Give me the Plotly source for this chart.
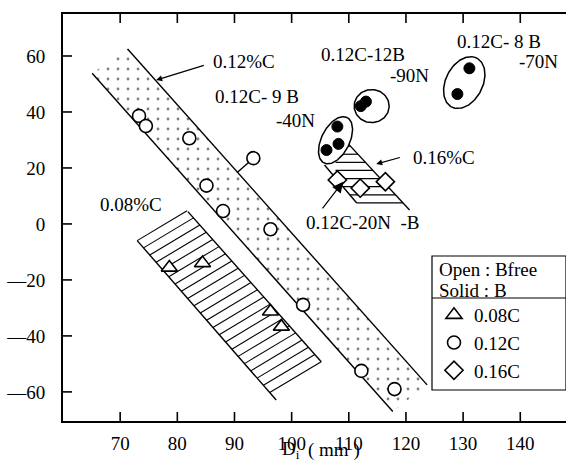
import numpy as np
import plotly.graph_objects as go

# ---------------- data ----------------
tri_x = [78.6, 84.4, 96.3, 98.2]                 # 0.08C, B free
tri_y = [-15.6, -14.0, -31.3, -36.7]
circ_x = [73.3, 74.5, 82.1, 93.3, 85.1, 88.0, 96.3, 102.0, 112.2, 118.0]   # 0.12C, B free
circ_y = [38.6, 35.0, 30.6, 23.5, 13.7, 4.6, -1.9, -28.9, -52.5, -59.0]
solid_x = [108.0, 108.2, 106.1, 113.0, 112.1, 131.1, 129.0]               # 0.12C, B added
solid_y = [34.8, 28.6, 26.4, 43.7, 42.1, 55.6, 46.4]
dia_x = [108.0, 112.0, 116.4]                     # 0.16C
dia_y = [15.7, 12.8, 15.1]

x_ticks = [70, 80, 90, 100, 110, 120, 130, 140]
y_ticks = [-60, -40, -20, 0, 20, 40, 60]
y_tick_text = ["\u201460", "\u201440", "\u201420", "0", "20", "40", "60"]

# band edges (data coordinates)
b12_low_x, b12_low_y = [65.1, 117.7], [53.8, -67.0]
b12_up_x, b12_up_y = [71.3, 123.7], [62.5, -57.5]
b08_left_x, b08_left_y = [72.98, 97.3], [-5.96, -62.9]
b08_right_x, b08_right_y = [81.85, 105.18], [4.4, -49.2]
b16_left_x, b16_left_y = [105.75, 111.39], [21.07, 7.5]
b16_right_x, b16_right_y = [109.55, 120.63], [29.4, 5.0]

# ellipses grouping boron steels (centre in data units, semi-axes in px, angle deg)
ell_cx = [107.68, 114.0, 130.2]
ell_cy = [29.9, 42.1, 50.5]
ell_a = [25.5, 17.5, 27.5]
ell_b = [14.0, 16.5, 18.5]
ell_ang = [63, 0, 63]

# ---------------- geometry helpers ----------------
W, H = 566, 461
ML, MR, MT, MB = 63, 0, 14, 40
PW, PH = W - ML - MR, H - MT - MB
X_RANGE = [60, 148]
Y_RANGE = [-70.4, 75]
sx = PW / (X_RANGE[1] - X_RANGE[0])
sy = PH / (Y_RANGE[1] - Y_RANGE[0])

def px2paper(px, py):
    return (px - ML) / PW, 1 - (py - MT) / PH

FONT = "Liberation Serif"
FS = 19

def line_through(xs, ys):
    m = (ys[1] - ys[0]) / (xs[1] - xs[0])
    return m, ys[0] - m * xs[0]

def seg_trace(xs, ys, width):
    return go.Scatter(x=xs, y=ys, mode="lines", line=dict(color="black", width=width),
                      hoverinfo="skip", showlegend=False)

fig = go.Figure()

# 0.12%C stippled band
fig.add_trace(go.Scatter(
    x=[b12_low_x[0], b12_low_x[1], b12_up_x[1], b12_up_x[0], b12_low_x[0]],
    y=[b12_low_y[0], b12_low_y[1], b12_up_y[1], b12_up_y[0], b12_low_y[0]],
    mode="lines", line=dict(width=0), fill="toself", fillcolor="white",
    fillpattern=dict(shape=".", size=10, solidity=0.06, fgcolor="black", bgcolor="white"),
    hoverinfo="skip", showlegend=False))
for xs, ys in [(b12_low_x, b12_low_y), (b12_up_x, b12_up_y)]:
    fig.add_trace(seg_trace(xs, ys, 1.4))

# 0.08%C hatched band (slanted hatch)
mL, cL = line_through(b08_left_x, b08_left_y)
mR, cR = line_through(b08_right_x, b08_right_y)
mh = 0.6 * sx / sy
k_top = b08_left_y[0] - mh * b08_left_x[0]
k_bot = b08_right_y[1] - mh * b08_right_x[1]
hx, hy = [], []
for k in np.linspace(k_top, k_bot, 22):
    x1 = (cL - k) / (mh - mL)
    x2 = (cR - k) / (mh - mR)
    hx += [x1, x2, None]
    hy += [mh * x1 + k, mh * x2 + k, None]
fig.add_trace(seg_trace(hx, hy, 1.1))
for xs, ys in [(b08_left_x, b08_left_y), (b08_right_x, b08_right_y)]:
    fig.add_trace(seg_trace(xs, ys, 1.4))

# 0.16%C hatched band (horizontal hatch)
mL2, cL2 = line_through(b16_left_x, b16_left_y)
mR2, cR2 = line_through(b16_right_x, b16_right_y)
hx, hy = [], []
for yv in np.linspace(b16_left_y[1], 27.8, 8):
    xl = max((yv - cL2) / mL2, ell_cx[0])
    xr = (yv - cR2) / mR2
    hx += [xl, xr, None]
    hy += [yv, yv, None]
fig.add_trace(seg_trace(hx, hy, 1.2))
for xs, ys in [(b16_left_x, b16_left_y), (b16_right_x, b16_right_y)]:
    fig.add_trace(seg_trace(xs, ys, 1.4))

# ellipses
t = np.linspace(0, 2 * np.pi, 120)
for cx, cy, a, b, ang in zip(ell_cx, ell_cy, ell_a, ell_b, ell_ang):
    th = np.radians(ang)
    ex = cx + (a * np.cos(th) * np.cos(t) - b * np.sin(th) * np.sin(t)) / sx
    ey = cy + (a * np.sin(th) * np.cos(t) + b * np.cos(th) * np.sin(t)) / sy
    fig.add_trace(go.Scatter(x=ex, y=ey, mode="lines", fill="toself", fillcolor="white",
                             line=dict(color="black", width=1.5), hoverinfo="skip",
                             showlegend=False))

# stem from the outlying open circle to the band edge (perpendicular in screen space)
px, py = circ_x[3] * sx, circ_y[3] * sy
ax0, ay0 = b12_up_x[0] * sx, b12_up_y[0] * sy
dx, dy = (b12_up_x[1] - b12_up_x[0]) * sx, (b12_up_y[1] - b12_up_y[0]) * sy
L = np.hypot(dx, dy)
tt = ((px - ax0) * dx + (py - ay0) * dy) / L**2
fx, fy = (ax0 + tt * dx) / sx, (ay0 + tt * dy) / sy
fig.add_trace(seg_trace([fx, circ_x[3]], [fy, circ_y[3]], 1.4))

# inward tick marks on bottom, top and left edges
TL = 9
X0, X1 = X_RANGE
Y0, Y1 = Y_RANGE
tkx, tky = [], []
for xv in x_ticks:
    tkx += [xv, xv, None, xv, xv, None]
    tky += [Y0, Y0 + TL / sy, None, Y1, Y1 - TL / sy, None]
for yv in y_ticks:
    tkx += [X0, X0 + TL / sx, None]
    tky += [yv, yv, None]
fig.add_trace(seg_trace(tkx, tky, 1.6))

# markers
mk_line = dict(color="black", width=1.6)
fig.add_trace(go.Scatter(x=tri_x, y=tri_y, mode="markers", name="0.08C",
                         marker=dict(symbol="triangle-up", size=14, color="white", line=mk_line)))
fig.add_trace(go.Scatter(x=circ_x, y=circ_y, mode="markers", name="0.12C",
                         marker=dict(symbol="circle", size=13, color="white", line=mk_line)))
fig.add_trace(go.Scatter(x=dia_x, y=dia_y, mode="markers", name="0.16C",
                         marker=dict(symbol="diamond", size=14, color="white", line=mk_line)))
fig.add_trace(go.Scatter(x=solid_x, y=solid_y, mode="markers", name="0.12C B",
                         marker=dict(symbol="circle", size=11, color="black",
                                     line=dict(color="black", width=1)),
                         showlegend=False))

# text annotations
tf = dict(family=FONT, size=FS, color="black")
labels = [
    ("0.12%C", 85.9, 57.9, "left"),
    ("0.08%C", 66.15, 6.8, "left"),
    ("0.12C- 9 B", 86.3, 45.4, "left"),
    ("-40N", 104.5, 37.1, "right"),
    ("0.12C-12B", 104.8, 60.4, "left"),
    ("-90N", 124.3, 53.2, "right"),
    ("0.12C- 8 B", 128.6, 65.0, "left"),
    ("-70N", 147.0, 57.9, "right"),
    ("0.16%C", 120.9, 23.9, "left"),
    ("0.12C-20N  -B", 102.2, 0.4, "left"),
]
for txt, x, y, anc in labels:
    fig.add_annotation(x=x, y=y, text=txt, showarrow=False, xanchor=anc, yanchor="middle",
                       font=tf)

arrows = [
    (76.3, 51.4, 84.9, 56.8, 1.0),
    (114.8, 21.4, 119.2, 23.9, 1.0),
    (109.0, 15.1, 105.2, 5.0, 1.8),
]
for hx_, hy_, tx_, ty_, sz in arrows:
    fig.add_annotation(x=hx_, y=hy_, ax=tx_, ay=ty_, xref="x", yref="y", axref="x", ayref="y",
                       text="", showarrow=True, arrowhead=2, arrowsize=sz, arrowwidth=1.2,
                       arrowcolor="black")

# x-axis title (D_i and unit as two texts so the subscript does not crowd the bracket)
for txt, pxx in [("D<sub>i</sub>", 291), ("( mm )", 334)]:
    tx, ty = px2paper(pxx, 450)
    fig.add_annotation(x=tx, y=ty, xref="paper", yref="paper", text=txt,
                       showarrow=False, xanchor="center", yanchor="middle", font=tf)

# legend box with header (Open / Solid)
bx0, by0 = px2paper(432, 256)
bx1, by1 = px2paper(566, 390)
_, dyp = px2paper(0, 298)
fig.add_shape(type="rect", xref="paper", yref="paper", x0=bx0, x1=bx1, y0=by1, y1=by0,
              line=dict(color="black", width=1.2), fillcolor="white", layer="above")
fig.add_shape(type="line", xref="paper", yref="paper", x0=bx0, x1=bx1, y0=dyp, y1=dyp,
              line=dict(color="black", width=1.2), layer="above")
for txt, py_ in [("Open : Bfree", 269), ("Solid : B", 290)]:
    xx, yy = px2paper(437, py_)
    fig.add_annotation(x=xx, y=yy, xref="paper", yref="paper", text=txt, showarrow=False,
                       xanchor="left", yanchor="middle", font=tf)

lx, ly = px2paper(434, 296)
fig.update_layout(
    width=W, height=H,
    margin=dict(l=ML, r=MR, t=MT, b=MB, autoexpand=False),
    paper_bgcolor="white", plot_bgcolor="white",
    font=dict(family=FONT, size=FS, color="black"),
    showlegend=True,
    legend=dict(
        x=lx, y=ly, xanchor="left", yanchor="top",
        bgcolor="rgba(255,255,255,0)", borderwidth=0,
        font=tf, tracegroupgap=0,
    ),
    xaxis=dict(range=X_RANGE, tickvals=x_ticks, ticks="", showline=True, linecolor="black",
               linewidth=1.8, mirror=True, showgrid=False, zeroline=False, automargin=False,
               tickfont=tf, ticklabelstandoff=4),
    yaxis=dict(range=Y_RANGE, tickvals=y_ticks, ticktext=y_tick_text, ticks="",
               showline=True, linecolor="black", linewidth=2, mirror=False, showgrid=False,
               zeroline=False, automargin=False, tickfont=tf, ticklabelstandoff=12),
)

fig.write_html("out.html", post_script="document.body.style.margin='0';",
               config={"displayModeBar": False})
